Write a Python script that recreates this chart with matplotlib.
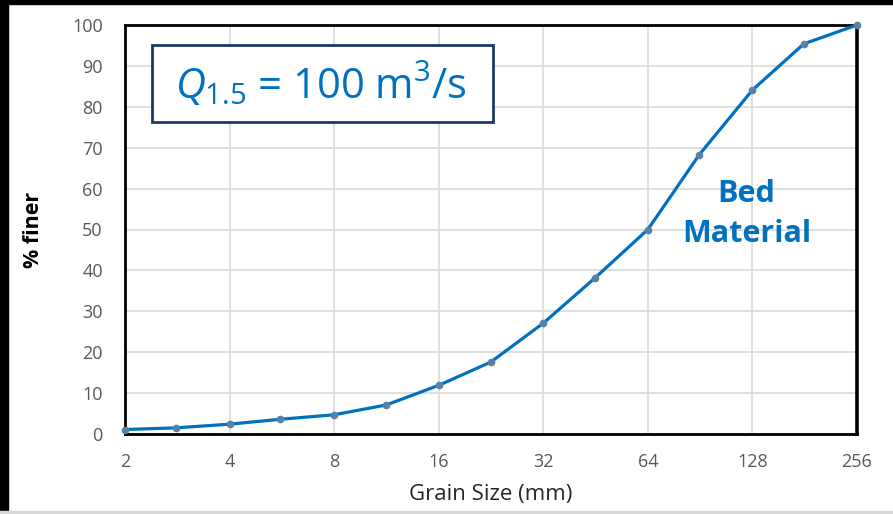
import matplotlib
matplotlib.use('Agg')
import matplotlib.pyplot as plt
from matplotlib.patches import Rectangle

# sieve sizes (mm) and percent finer
grain_size = [2, 2.8, 4, 5.6, 8, 11.3, 16, 22.6, 32, 45, 64, 90, 128, 180, 256]
pct_finer = [1.1, 1.5, 2.4, 3.6, 4.7, 7.1, 11.9, 17.6, 27.1, 38.1, 50.0, 68.3, 84.1, 95.4, 100.0]

x_ticks = [2, 4, 8, 16, 32, 64, 128, 256]
y_ticks = list(range(0, 101, 10))

plt.rcParams['font.family'] = ['Open Sans', 'DejaVu Sans']
plt.rcParams['mathtext.fontset'] = 'custom'
plt.rcParams['mathtext.rm'] = 'Open Sans'
plt.rcParams['mathtext.it'] = 'Open Sans:italic'

fig = plt.figure(figsize=(8.93, 5.14), dpi=100)
fig.patch.set_facecolor('white')

# black frame strips of the screenshot (top and left) and grey bottom line
fig.patches.append(Rectangle((0, 1 - 4 / 514), 1, 4 / 514, transform=fig.transFigure, color='black', zorder=0))
fig.patches.append(Rectangle((0, 0), 8 / 893, 1, transform=fig.transFigure, color='black', zorder=0))
fig.patches.append(Rectangle((0, 0), 1, 3 / 514, transform=fig.transFigure, color='#D9D9D9', zorder=0))

ax = fig.add_axes([125 / 893, 80 / 514, 732 / 893, 409 / 514])

ax.plot(grain_size, pct_finer, color='#0070C0', linewidth=2.3, zorder=3, clip_on=False)
ax.plot(grain_size, pct_finer, linestyle='none', marker='o', markersize=4.5,
        markerfacecolor='#5B80A5', markeredgecolor='#5B80A5', zorder=4, clip_on=False)

ax.set_xscale('log', base=2)
ax.set_xlim(2, 256)
ax.set_ylim(0, 100)
ax.set_xticks(x_ticks)
ax.set_xticklabels([str(t) for t in x_ticks])
ax.set_yticks(y_ticks)
ax.minorticks_off()

ax.grid(True, color='#D9D9D9', linewidth=1.2, zorder=0)
ax.set_axisbelow(True)
for side in ['left', 'right', 'top', 'bottom']:
    ax.spines[side].set_color('black')
    ax.spines[side].set_linewidth(2)
    ax.spines[side].set_zorder(2.5)
ax.spines['right'].set_linewidth(2.6)

ax.tick_params(axis='both', length=0, labelsize=13, labelcolor='#595959')
ax.tick_params(axis='y', pad=16)
ax.tick_params(axis='x', pad=14)

ax.set_xlabel('Grain Size (mm)', fontsize=16, color='#262626', labelpad=9)
ax.set_ylabel('% finer', fontsize=15.5, fontweight='bold', color='black', labelpad=20)

# discharge box
fig.patches.append(Rectangle((152 / 893, 1 - 122 / 514), 341 / 893, 77 / 514, transform=fig.transFigure,
                             facecolor='white', edgecolor='#1F3864', linewidth=2, zorder=5))
fig.text(321 / 893, 1 - 85 / 514, r'$\mathit{Q}_{1.5}$ = 100 m$^{3}$/s', fontsize=30, color='#0070C0',
         ha='center', va='center', zorder=6)

ax.text(123, 53.8, 'Bed\nMaterial', fontsize=22, fontweight='bold', color='#0070C0',
        ha='center', va='center', linespacing=1.45, zorder=5)

fig.savefig('out.png', dpi=100)
